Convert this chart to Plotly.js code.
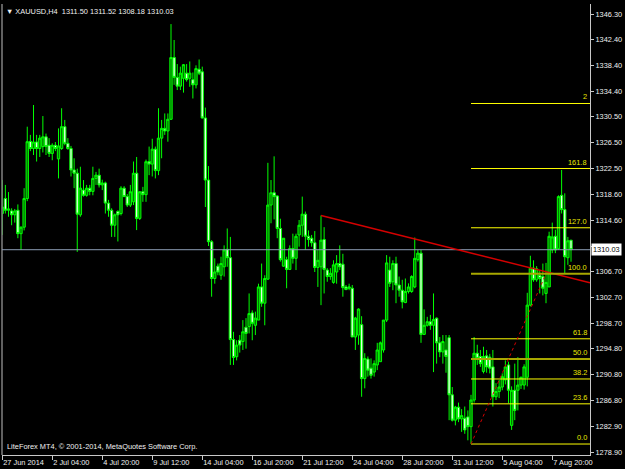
<!DOCTYPE html>
<html><head><meta charset="utf-8">
<script src="https://cdn.plot.ly/plotly-3.0.1.min.js"></script>
<style>html,body{margin:0;padding:0;background:#000;}#chart{width:625px;height:469px;}</style>
</head><body><div id="chart"></div>
<script>
const symbol = "XAUUSD,H4";
const copyright = "LiteForex MT4, \u00a9 2001-2014, MetaQuotes Software Corp.";

const open = [
1316.1,1315.6,1317.9,1316.1,1316.0,1315.4,1316.1,1312.5,1313.5,1317.9,
1326.7,1325.6,1326.6,1325.6,1325.9,1327.4,1326.1,1324.85,1326.1,1324.0,
1325.6,1328.96,1326.4,1325.6,1322.3,1321.8,1315.4,1319.2,1318.4,1319.5,
1319.0,1321.0,1321.5,1320.0,1320.3,1317.2,1316.1,1313.8,1315.9,1315.6,
1319.5,1318.2,1316.9,1317.4,1321.8,1314.85,1318.95,1318.5,1323.6,1323.2,
1325.5,1322.2,1327.2,1328.7,1328.3,1330.1,1339.6,1336.55,1335.2,1336.4,
1337.2,1336.4,1336.2,1335.4,1337.8,1337.4,1330.3,1320.75,1311.26,1305.6,
1307.5,1306.1,1307.4,1310.1,1308.8,1296.2,1293.56,1296.1,1295.9,1298.1,
1298.2,1300.3,1298.4,1299.2,1304.3,1301.8,1305.5,1316.9,1318.8,1318.3,
1313.3,1307.5,1308.5,1307.0,1310.2,1308.7,1312.3,1313.8,1315.5,1312.1,
1311.8,1311.1,1307.3,1307.4,1311.6,1306.9,1305.9,1305.0,1306.6,1307.9,
1307.8,1304.3,1304.1,1304.1,1296.6,1296.9,1298.5,1290.2,1293.2,1291.8,
1291.2,1292.3,1292.8,1294.6,1299.2,1306.9,1305.1,1307.9,1304.6,1303.8,
1301.9,1303.6,1303.6,1304.3,1308.5,1309.5,1297.0,1298.4,1298.95,1298.4,
1299.5,1295.7,1294.3,1294.6,1296.5,1287.7,1283.8,1285.8,1284.0,1284.1,
1284.3,1282.8,1286.9,1294.1,1293.6,1291.3,1293.7,1293.5,1292.0,1287.4,
1288.2,1288.9,1290.0,1292.3,1283.0,1288.4,1288.4,1289.2,1289.2,1290.4,
1301.5,1307.2,1305.4,1306.1,1305.9,1303.3,1304.3,1310.0,1312.1,1310.2,
1318.4,1316.2,1308.8,1311.50];
const high = [
1320.75,1320.75,1320.0,1318.9,1316.4,1316.3,1317.0,1313.6,1319.5,1328.96,
1327.7,1332.3,1327.7,1327.7,1330.6,1327.9,1327.2,1326.4,1326.6,1328.7,
1331.8,1330.0,1327.2,1326.0,1324.1,1322.5,1322.8,1320.75,1320.0,1320.0,
1322.8,1322.0,1322.5,1320.8,1320.5,1317.7,1316.4,1315.6,1316.1,1319.8,
1319.8,1318.6,1320.0,1323.6,1324.3,1319.0,1319.7,1323.9,1325.9,1327.1,
1325.9,1331.8,1330.0,1331.0,1331.0,1344.75,1342.3,1338.6,1338.2,1338.6,
1338.6,1339.0,1337.3,1338.4,1339.3,1338.2,1331.9,1322.9,1311.5,1308.7,
1307.9,1308.95,1310.7,1313.3,1312.0,1297.4,1296.1,1296.9,1299.2,1299.5,
1303.3,1300.7,1300.5,1304.8,1307.9,1306.1,1323.4,1320.75,1324.4,1318.4,
1314.8,1311.8,1308.95,1310.7,1312.5,1312.5,1314.6,1318.2,1315.9,1313.0,
1312.3,1312.9,1310.0,1315.3,1313.5,1307.2,1307.2,1308.4,1309.2,1310.7,
1309.4,1304.6,1304.8,1304.6,1299.7,1301.0,1299.8,1294.1,1293.6,1293.3,
1293.0,1295.7,1295.9,1299.2,1309.2,1308.95,1308.4,1308.95,1305.9,1305.4,
1305.6,1304.85,1306.1,1311.9,1310.0,1310.0,1300.85,1299.7,1300.0,1303.3,
1299.6,1296.6,1296.9,1296.9,1296.9,1288.9,1286.0,1286.5,1285.5,1285.9,
1285.3,1287.7,1296.6,1295.4,1294.6,1295.1,1294.6,1294.0,1294.6,1289.5,
1290.0,1291.0,1293.0,1292.8,1289.0,1292.5,1293.5,1290.5,1292.4,1303.4,
1309.1,1308.4,1307.5,1306.9,1307.9,1308.0,1312.8,1314.2,1313.1,1318.4,
1322.3,1318.7,1312.0,1311.52];
const low = [
1312.3,1312.3,1315.6,1315.1,1313.8,1314.2,1311.8,1310.0,1313.0,1317.5,
1325.2,1324.6,1323.6,1324.3,1325.0,1324.6,1324.3,1323.8,1325.2,1321.0,
1325.4,1326.1,1325.4,1321.3,1319.5,1309.7,1315.1,1318.2,1318.2,1318.4,
1318.4,1320.0,1319.6,1319.2,1315.6,1315.1,1312.0,1312.0,1311.3,1315.3,
1318.2,1316.6,1316.6,1316.9,1313.05,1314.6,1317.4,1317.4,1321.5,1321.3,
1321.0,1321.5,1324.1,1327.7,1326.65,1330.0,1335.4,1334.6,1334.6,1334.2,
1335.9,1335.1,1333.3,1334.85,1336.9,1330.2,1316.6,1310.6,1302.8,1304.8,
1306.1,1305.4,1305.9,1307.4,1292.3,1292.3,1293.0,1294.2,1294.6,1294.8,
1297.15,1296.1,1296.9,1299.2,1301.25,1298.4,1305.4,1314.1,1314.7,1311.8,
1308.2,1307.4,1304.1,1306.9,1307.9,1306.9,1310.5,1312.0,1310.0,1310.5,
1310.5,1306.6,1304.3,1301.5,1303.3,1305.1,1305.4,1304.8,1304.8,1306.9,
1302.8,1303.8,1303.8,1296.6,1294.6,1295.4,1287.4,1288.7,1290.5,1290.2,
1290.5,1291.5,1292.8,1294.2,1298.9,1304.3,1303.8,1301.8,1302.8,1301.0,
1301.8,1303.3,1303.4,1304.1,1308.2,1295.7,1296.9,1298.2,1297.7,1291.2,
1292.5,1293.5,1292.5,1291.1,1283.8,1283.6,1283.0,1283.5,1282.0,1281.7,
1280.7,1280.13,1286.5,1292.3,1292.0,1291.0,1291.1,1291.0,1285.9,1286.9,
1287.2,1288.4,1289.3,1286.4,1282.3,1283.8,1285.3,1288.6,1288.5,1289.0,
1301.3,1305.1,1305.1,1303.3,1303.0,1301.8,1304.3,1309.5,1309.5,1310.0,
1315.6,1306.4,1307.7,1308.18];
const close = [
1317.9,1316.6,1316.1,1316.3,1315.4,1316.0,1312.5,1313.5,1317.9,1326.65,
1325.6,1326.6,1325.6,1327.2,1327.4,1325.9,1324.85,1326.1,1325.6,1326.0,
1328.96,1326.4,1325.6,1322.3,1321.8,1315.5,1319.5,1318.4,1319.5,1319.0,
1321.0,1321.5,1320.0,1320.3,1317.2,1316.1,1313.8,1315.4,1315.4,1319.5,
1318.2,1316.9,1318.95,1321.8,1314.85,1318.95,1318.5,1323.57,1323.2,1325.5,
1322.2,1327.2,1328.7,1328.3,1330.1,1339.6,1336.55,1335.2,1337.2,1338.5,
1336.2,1337.2,1335.4,1337.9,1337.2,1330.3,1320.75,1311.26,1305.6,1306.6,
1306.6,1307.9,1310.0,1308.8,1296.2,1293.45,1295.35,1295.35,1297.4,1297.15,
1300.2,1298.7,1299.5,1304.3,1301.8,1305.6,1316.9,1318.8,1318.2,1313.3,
1308.5,1311.8,1307.0,1310.2,1308.7,1312.1,1313.8,1315.5,1312.1,1311.6,
1311.1,1307.3,1308.4,1311.5,1307.0,1305.9,1306.4,1307.7,1307.9,1307.4,
1304.2,1303.9,1304.3,1296.6,1299.5,1300.9,1290.2,1293.3,1291.5,1290.7,
1292.5,1294.6,1295.7,1299.2,1308.0,1304.85,1307.9,1304.6,1303.8,1302.0,
1303.6,1304.3,1305.9,1308.7,1309.5,1297.0,1298.4,1298.95,1298.4,1299.3,
1295.7,1294.3,1295.9,1293.6,1287.7,1283.8,1285.8,1284.0,1284.5,1282.3,
1282.8,1286.9,1294.1,1293.3,1292.5,1293.6,1292.0,1291.8,1287.4,1288.2,
1288.9,1290.5,1292.0,1288.4,1288.4,1285.3,1289.2,1290.4,1292.0,1301.5,
1307.2,1305.4,1307.1,1305.6,1304.1,1305.0,1312.1,1312.0,1310.0,1318.2,
1316.2,1308.95,1311.4,1310.03];

const tickBars = [1,17,33,49,65,81,97,113,129,145,161,177];
const tickLabels = ["27 Jun 2014","2 Jul 04:00","4 Jul 20:00","9 Jul 12:00","14 Jul 04:00","16 Jul 20:00",
  "21 Jul 12:00","24 Jul 04:00","28 Jul 20:00","31 Jul 12:00","5 Aug 04:00","7 Aug 20:00"];
// price scale ticks; the 1310.60 label is covered by the bid-price box in the reference
const priceTicks = [1346.30,1342.40,1338.40,1334.40,1330.50,1326.50,1322.50,1318.60,1314.60,1310.60,
  1306.70,1302.70,1298.70,1294.80,1290.80,1286.80,1282.90,1278.90];
const hiddenTickLabels = [1310.60];

const fibLevels = [0, 23.6, 38.2, 50, 61.8, 100, 127, 161.8, 200];
const fibLabels = ["0.0","23.6","38.2","50.0","61.8","100.0","127.0","161.8","2"];
const fibAnchorBars = [151, 175];
const fibAnchorPrices = [1280.13, 1306.33];
const trendBars = [103, 186];
const trendPrices = [1315.3, 1305.3];

const xs = open.map((_, i) => i);
const xRange = [0.92, 189.08];
const yRange = [1278.44, 1347.84];
const FONT = "Liberation Sans, Arial, sans-serif";
const fs = 7.4;
const last = close.length - 1;

const trace = {
  type: 'candlestick', x: xs, open: open, high: high, low: low, close: close,
  increasing: {line: {color: '#00ff00', width: 1}, fillcolor: '#007a00'},
  decreasing: {line: {color: '#00ff00', width: 1}, fillcolor: '#e0ffe0'},
  whiskerwidth: 0, hoverinfo: 'skip', showlegend: false
};

const shapes = [];
const annotations = [];
shapes.push({type:'line', xref:'paper', yref:'paper', x0:0, x1:0, y0:0, y1:1, line:{color:'#808080', width:1.5}});
shapes.push({type:'line', xref:'paper', yref:'y', x0:0, x1:1, y0:close[last], y1:close[last], line:{color:'#8c9cb4', width:1}});
const slope = (trendPrices[1]-trendPrices[0])/(trendBars[1]-trendBars[0]);
shapes.push({type:'line', xref:'x', yref:'y', x0:trendBars[0], y0:trendPrices[0], x1:xRange[1], y1:trendPrices[0]+slope*(xRange[1]-trendBars[0]), line:{color:'#d40000', width:1.5}});
const fr = fibAnchorPrices[1]-fibAnchorPrices[0];
fibLevels.forEach((lv, i) => {
  const p = fibAnchorPrices[0] + fr*lv/100;
  const olive = (lv === 50 || lv === 100);
  shapes.push({type:'line', xref:'x', yref:'y', x0:fibAnchorBars[0], x1:xRange[1], y0:p, y1:p,
    line:{color: olive ? '#a8a800' : '#ffff00', width: olive ? 2 : 1}});
  annotations.push({xref:'paper', yref:'y', x:1, y:p, xanchor:'right', yanchor:'bottom', xshift:-1, yshift:0,
    text: fibLabels[i], showarrow:false, font:{family:FONT, size:fs, color:'#e8e800'}});
});
shapes.push({type:'line', xref:'x', yref:'y', x0:fibAnchorBars[0], y0:fibAnchorPrices[0], x1:fibAnchorBars[1], y1:fibAnchorPrices[1],
  line:{color:'#d40000', width:1, dash:'dot'}});

annotations.push({xref:'paper', yref:'paper', x:0, y:1, xanchor:'left', yanchor:'top', xshift:2, yshift:-1, showarrow:false,
  text: '\u25BC\u00a0' + symbol + '\u00a0\u00a0' + [open[last], high[last], low[last], close[last]].map(v => v.toFixed(2)).join('\u00a0'),
  font:{family:FONT, size:fs, color:'#f0f0f0'}});
annotations.push({xref:'paper', yref:'paper', x:0, y:0, xanchor:'left', yanchor:'bottom', xshift:3, yshift:2, showarrow:false,
  text: copyright, font:{family:FONT, size:fs, color:'#f0f0f0'}});
annotations.push({xref:'paper', yref:'y', x:1, y:close[last], xanchor:'left', yanchor:'middle', xshift:1, showarrow:false,
  text: close[last].toFixed(2), bgcolor:'#ffffff', borderpad:1, font:{family:FONT, size:fs, color:'#000000'}});

const layout = {
  width: 625, height: 469,
  margin: {l:2, r:35, t:4, b:14, pad:0},
  paper_bgcolor: '#000000', plot_bgcolor: '#000000',
  showlegend: false, boxgap: 0.25, boxgroupgap: 0,
  xaxis: {range: xRange, showgrid:false, zeroline:false, showline:true, linecolor:'#c8c8c8', linewidth:1,
    ticks:'outside', ticklen:4, tickcolor:'#c8c8c8', tickvals: tickBars, ticktext: tickLabels,
    ticklabelposition:'outside right', tickfont:{family:FONT, size:fs, color:'#f0f0f0'},
    rangeslider:{visible:false}, fixedrange:true},
  yaxis: {range: yRange, side:'right', showgrid:false, zeroline:false, showline:true, linecolor:'#c8c8c8', linewidth:1,
    ticks:'outside', ticklen:3, tickcolor:'#c8c8c8', tickvals: priceTicks,
    ticktext: priceTicks.map(v => hiddenTickLabels.includes(v) ? '' : v.toFixed(2)),
    tickfont:{family:FONT, size:fs, color:'#f0f0f0'}, fixedrange:true},
  shapes: shapes, annotations: annotations
};
Plotly.newPlot('chart', [trace], layout, {displayModeBar:false, staticPlot:true});
</script></body></html>
